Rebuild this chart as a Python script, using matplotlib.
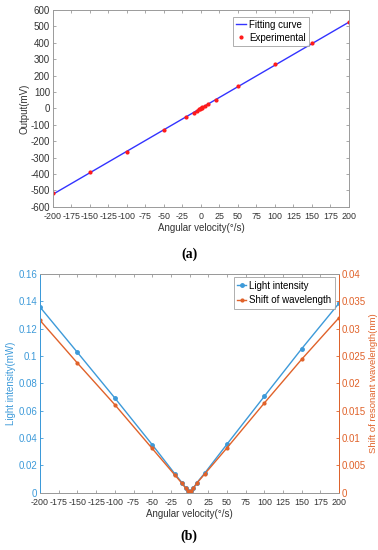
import numpy as np
import matplotlib.pyplot as plt

plt.rcParams['font.family'] = ['Liberation Sans', 'DejaVu Sans']
plt.rcParams['font.size'] = 6.6
plt.rcParams['axes.unicode_minus'] = False

# (a) output vs angular velocity
vel_a = [-200, -150, -100, -50, -20, -10, -5, -2, -1, 0, 1, 2, 5, 10, 20, 50, 100, 150, 200]
out_a = [-518, -390, -263, -133, -55, -27, -15, -7, -3, 0, 3, 6, 13, 28, 52, 134, 268, 398, 525]

# (b) light intensity and wavelength shift
vel_b = [-200, -150, -100, -50, -20, -10, -5, -2, 0, 2, 5, 10, 20, 50, 100, 150, 200]
light = [0.1357, 0.1026, 0.0693, 0.0352, 0.0141, 0.0073, 0.0035, 0.0015, 0.0005,
         0.0015, 0.0035, 0.0075, 0.0142, 0.0355, 0.0705, 0.1053, 0.1386]
shift = [0.0315, 0.0237, 0.0161, 0.0081, 0.0033, 0.0017, 0.0008, 0.0003, 0.0001,
         0.0003, 0.0008, 0.0018, 0.0034, 0.0082, 0.0164, 0.0244, 0.0320]

x_ticks = list(range(-200, 201, 25))
blue = '#3d9ad9'
orange = '#e0622a'
gray = '#9a9a9a'
dark = '#333333'

fig = plt.figure(figsize=(3.78, 5.5), dpi=100)

def style(ax):
    for s in ax.spines.values():
        s.set_color(gray)
        s.set_linewidth(0.7)
    ax.tick_params(direction='in', length=2.5, width=0.6, color=gray,
                   labelcolor=dark)
    ax.tick_params(axis='x', pad=3.5, labelsize=6.4)
    ax.tick_params(axis='y', pad=2, labelsize=7)

# ---- (a)
ax1 = fig.add_axes([0.140, 0.624, 0.783, 0.358])
k, b = np.polyfit(vel_a, out_a, 1)
xs = np.array([-200, 200])
ax1.plot(xs, k * xs + b, color='#3333ff', lw=1.0, label='Fitting curve')
ax1.plot(vel_a, out_a, '.', color='#ff1a1a', ms=4, label='Experimental')
ax1.set_xlim(-200, 200)
ax1.set_ylim(-600, 600)
ax1.set_xticks(x_ticks)
ax1.set_yticks(range(-600, 601, 100))
style(ax1)
ax1.tick_params(top=True, right=True)
ax1.set_xlabel('Angular velocity(°/s)', labelpad=2, color=dark, fontsize=7)
ax1.set_ylabel('Output(mV)', labelpad=1, color=dark, fontsize=7)
leg = ax1.legend(loc='upper left', bbox_to_anchor=(0.61, 0.965), fancybox=False,
                 edgecolor=gray, fontsize=7, handlelength=1.0, handletextpad=0.3,
                 borderpad=0.3, labelspacing=0.3, borderaxespad=0)
leg.get_frame().set_linewidth(0.7)

fig.text(0.5, 0.537, '(a)', ha='center', va='center', family='Liberation Serif',
         fontsize=10, weight='bold')

# ---- (b)
ax2 = fig.add_axes([0.106, 0.104, 0.791, 0.398])
ax3 = ax2.twinx()
l1, = ax2.plot(vel_b, light, '.-', color=blue, lw=1.0, ms=5, label='Light intensity')
l2, = ax3.plot(vel_b, shift, '.-', color=orange, lw=1.0, ms=4, label='Shift of wavelength')
ax2.set_xlim(-200, 200)
ax2.set_ylim(0, 0.16)
ax3.set_ylim(0, 0.04)
ax2.set_xticks(x_ticks)
ax2.set_yticks(np.arange(0, 0.161, 0.02))
ax2.set_yticklabels(['0', '0.02', '0.04', '0.06', '0.08', '0.1', '0.12', '0.14', '0.16'])
ax3.set_yticks(np.arange(0, 0.0401, 0.005))
ax3.set_yticklabels(['0', '0.005', '0.01', '0.015', '0.02', '0.025', '0.03', '0.035', '0.04'])
style(ax2)
style(ax3)
ax2.tick_params(top=True)
ax2.tick_params(axis='y', colors=blue, labelcolor=blue)
ax3.tick_params(axis='y', colors=orange, labelcolor=orange)
ax2.spines['left'].set_color(blue)
ax3.spines['left'].set_color(blue)
ax3.spines['right'].set_color(orange)
ax2.set_xlabel('Angular velocity(°/s)', labelpad=2, color=dark, fontsize=7)
ax2.set_ylabel('Light intensity(mW)', color=blue, labelpad=2, fontsize=7)
ax3.set_ylabel('Shift of resonant wavelength(nm)', color=orange, labelpad=2, fontsize=6.8)
leg2 = ax3.legend(handles=[l1, l2], loc='upper right', bbox_to_anchor=(0.985, 0.985),
                  fancybox=False, edgecolor=gray, fontsize=7, handlelength=0.9,
                  handletextpad=0.3, borderpad=0.35, labelspacing=0.5, borderaxespad=0)
leg2.get_frame().set_linewidth(0.7)

fig.text(0.5, 0.025, '(b)', ha='center', va='center', family='Liberation Serif',
         fontsize=10, weight='bold')

fig.savefig('out.png', dpi=100)
